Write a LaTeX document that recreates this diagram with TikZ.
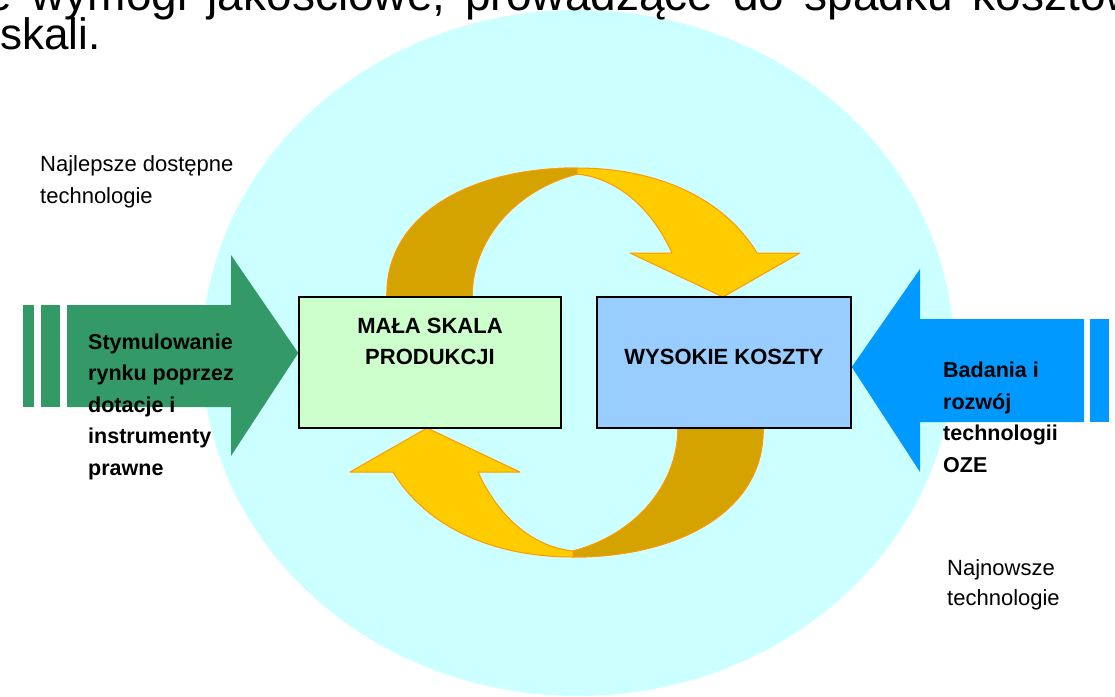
\documentclass[tikz,border=0pt]{standalone}
\usepackage{fontspec}
\setmainfont{Liberation Sans}
\usepackage{tikz}
\definecolor{oval}{RGB}{204,255,255}
\definecolor{greenarrow}{RGB}{51,153,102}
\definecolor{bluearrow}{RGB}{0,153,255}
\definecolor{greenbox}{RGB}{204,255,204}
\definecolor{bluebox}{RGB}{153,204,255}
\definecolor{gold}{RGB}{255,204,0}
\definecolor{darkgold}{RGB}{212,163,0}
\definecolor{rim}{RGB}{255,153,0}

\tikzset{
  headtxt/.style={anchor=base west,inner sep=0pt,font=\fontsize{44}{40}\selectfont},
  plaintxt/.style={anchor=base west,inner sep=0pt,align=left,font=\fontsize{22}{31.5}\selectfont},
  boldtxt/.style={anchor=base west,inner sep=0pt,align=left,font=\fontsize{21.5}{31.5}\selectfont\bfseries},
  cyclebox/.style={draw=black,line width=1.5pt,inner sep=0pt,minimum height=131pt},
  ribbon/.style={fill=gold,draw=rim,line width=1pt,line join=round},
  ribbonback/.style={fill=darkgold,draw=rim,line width=1pt,line join=round}
}

\begin{document}
\begin{tikzpicture}[x=1pt,y=-1pt]
                    \useasboundingbox (0,0) rectangle (1115,696);
                    \fill[oval] (578,353) ellipse [x radius=376,y radius=343];

                    \node[headtxt,font=\fontsize{46}{40}\selectfont] (headone) at (-14,10) {\spaceskip=20pt\relax e wymogi jakościowe, prowadzące do spadku kosztów};
                    \node[headtxt] (headtwo) at (0,49) {skali.};

                    % feedback loop
                    \foreach \ang in {0,180}{
                      \begin{scope}[rotate around={\ang:(575,362.5)}]
                        \draw[ribbon] (387,297) .. controls (385,215) and (470,168) .. (577,168)
                          .. controls (660,168) and (725,200) .. (757,253)
                          -- (800,253) -- (723,297) -- (630,253) -- (672,253)
                          .. controls (650,205) and (615,178) .. (577,174)
                          .. controls (515,190) and (472,240) .. (472,297) -- cycle;
                        \draw[ribbonback] (387,297) .. controls (385,215) and (470,168) .. (577,168)
                          -- (577,174) .. controls (515,190) and (472,240) .. (472,297) -- cycle;
                      \end{scope}
                    }

                    \node[cyclebox,fill=greenbox,minimum width=262pt] (malaskala) at (430,362.5) {};
                    \node[cyclebox,fill=bluebox,minimum width=254pt] (wysokiekoszty) at (724,362.5) {};
                    \node[boldtxt,anchor=base,align=center,font=\fontsize{22}{31}\selectfont\bfseries] (malatxt) at (430,364) {MAŁA SKALA\\PRODUKCJI};
                    \node[boldtxt,anchor=base,font=\fontsize{22}{31}\selectfont\bfseries] (wysokietxt) at (724,364) {WYSOKIE KOSZTY};

                    % green input
                    \fill[greenarrow] (23,305) rectangle (34,407);
                    \fill[greenarrow] (41,305) rectangle (60,407);
                    \fill[greenarrow] (67,305) -- (231,305) -- (231,255) -- (malaskala.west |- 0,353)
                      -- (231,456) -- (231,407) -- (67,407) -- cycle;

                    % blue input
                    \fill[bluearrow] (1090,319) rectangle (1109,422);
                    \fill[bluearrow] (1084,319) -- (920,319) -- (920,269) -- (wysokiekoszty.east |- 0,367)
                      -- (920,472) -- (920,422) -- (1084,422) -- cycle;

                    \node[boldtxt] (stymul) at (88,475) {Stymulowanie\\rynku poprzez\\dotacje i\\instrumenty\\prawne};
                    \node[boldtxt] (badania) at (943,472) {Badania i\\rozwój\\technologii\\OZE};
                    \node[plaintxt] (najlepsze) at (40,203) {Najlepsze dostępne\\technologie};
                    \node[plaintxt,font=\fontsize{22}{30}\selectfont] (najnowsze) at (947,605) {Najnowsze\\technologie};
                \end{tikzpicture}
\end{document}
